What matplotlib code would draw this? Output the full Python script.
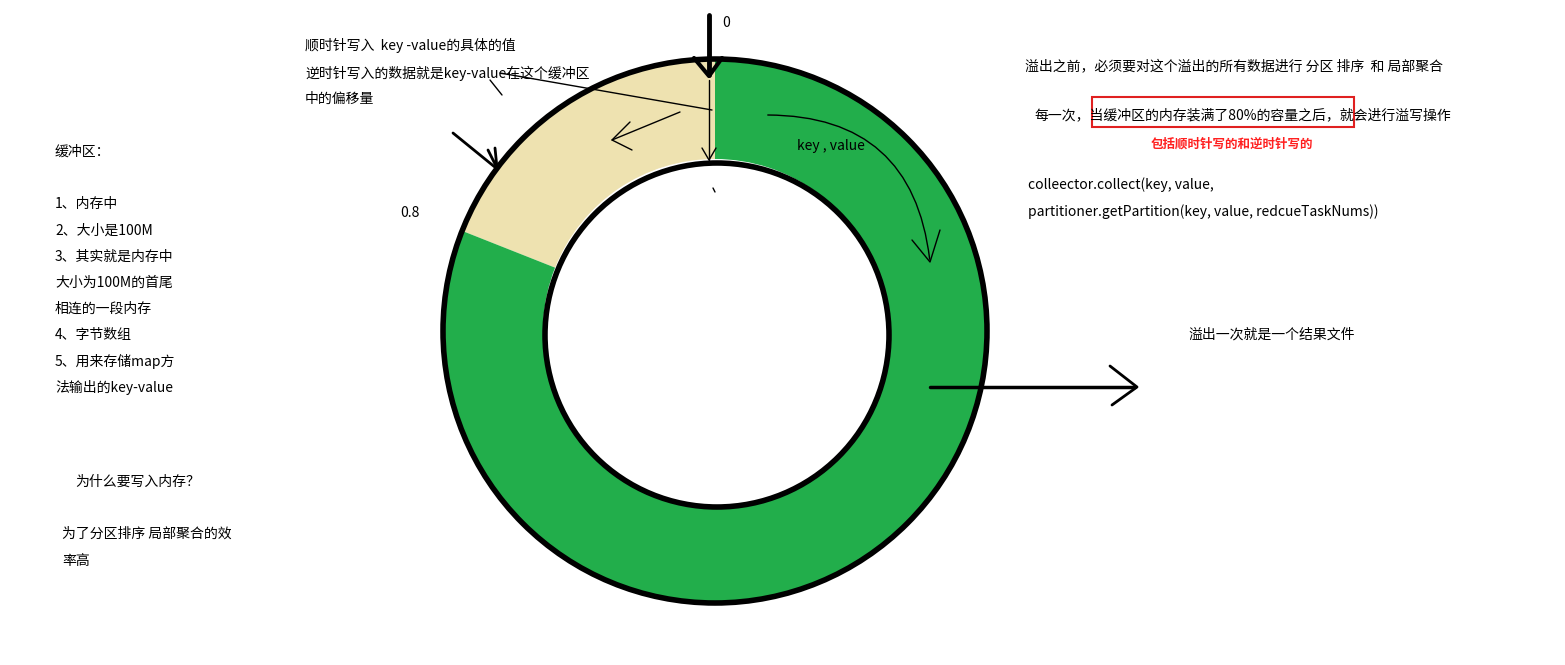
import matplotlib
matplotlib.use("Agg")
import matplotlib.pyplot as plt
from matplotlib.patches import Circle, Rectangle, FancyArrowPatch

plt.rcParams['font.family'] = ['Noto Sans CJK SC', 'DejaVu Sans']

labels = ["written", "free"]
shares = [0.19, 0.81]
colors = ["#EEE2B0", "#22AE4B"]

left_lines = ["缓冲区：", "", "1、内存中", "2、大小是100M", "3、其实就是内存中",
              "大小为100M的首尾", "相连的一段内存", "4、字节数组", "5、用来存储map方", "法输出的key-value"]

fig = plt.figure(figsize=(15.65, 6.65), dpi=100)
ax = fig.add_axes([0, 0, 1, 1])
ax.set_xlim(0, 1565)
ax.set_ylim(665, 0)
ax.set_aspect('equal')
ax.axis('off')

cx, cy, R, r = 715, 331, 272, 172
ax.pie(shares, colors=colors, radius=R, center=(cx, cy), startangle=270,
       counterclock=False, wedgeprops=dict(width=R - r, edgecolor='none'), frame=True)
ax.set_xlim(0, 1565); ax.set_ylim(665, 0); ax.axis('off')
ax.add_patch(Circle((cx, cy), R, fill=False, lw=4, ec='black'))
ax.add_patch(Circle((cx + 2, cy + 4), r, fill=True, fc='white', lw=4, ec='black'))

k = dict(color='black', solid_capstyle='round')
# top thick arrow
ax.plot([709, 709], [15, 75], lw=3.5, **k)
ax.plot([694, 709, 722], [58, 76, 58], lw=3, **k)
ax.plot([709, 709], [80, 160], lw=1, **k)
ax.plot([702, 709, 716], [148, 160, 148], lw=1, **k)
# left arrow to ring
ax.plot([453, 496], [133, 168], lw=2, **k)
ax.plot([488, 497, 495], [150, 168, 148], lw=2, **k)
# text pointer lines
ax.plot([500, 712], [73, 110], lw=1, **k)
ax.plot([490, 502], [80, 95], lw=1, **k)
ax.plot([680, 612], [112, 140], lw=1, **k)
ax.plot([630, 612, 632], [122, 140, 150], lw=1, **k)
ax.plot([713, 715], [188, 192], lw=1, **k)
# curved arrow
ax.add_patch(FancyArrowPatch((765, 115), (930, 262), connectionstyle="arc3,rad=-0.45",
                             arrowstyle='-', lw=1, color='black'))
ax.plot([912, 930, 940], [240, 262, 230], lw=1, **k)
# right arrow
ax.plot([930, 1135], [387, 387], lw=2.5, **k)
ax.plot([1110, 1137, 1112], [366, 387, 405], lw=2, **k)

fs = 10
ax.text(722, 23, "0", fontsize=fs, va='center')
ax.text(400, 213, "0.8", fontsize=fs, va='center')
ax.text(797, 146, "key , value", fontsize=fs, va='center')
ax.text(305, 45, "顺时针写入  key -value的具体的值", fontsize=fs, va='center')
ax.text(305, 73, "逆时针写入的数据就是key-value在这个缓冲区", fontsize=fs, va='center')
ax.text(305, 99, "中的偏移量", fontsize=fs, va='center')
for i, t in enumerate(left_lines):
    ax.text(55, 152 + i * 26.2, t, fontsize=fs, va='center')
ax.text(75, 482, "为什么要写入内存？", fontsize=fs, va='center')
ax.text(62, 534, "为了分区排序 局部聚合的效", fontsize=fs, va='center')
ax.text(62, 561, "率高", fontsize=fs, va='center')
ax.text(1025, 66, "溢出之前，必须要对这个溢出的所有数据进行 分区 排序  和 局部聚合", fontsize=fs, va='center')
ax.text(1034, 115, "每一次，当缓冲区的内存装满了80%的容量之后，就会进行溢写操作", fontsize=fs, va='center')
ax.add_patch(Rectangle((1092, 97), 262, 30, fill=False, ec='#E02020', lw=1.5))
ax.text(1232, 144, "包括顺时针写的和逆时针写的", fontsize=9, color='#FF2020', weight='bold', ha='center', va='center')
ax.text(1028, 185, "colleector.collect(key, value,", fontsize=fs, va='center')
ax.text(1028, 212, "partitioner.getPartition(key, value, redcueTaskNums))", fontsize=fs, va='center')
ax.text(1188, 335, "溢出一次就是一个结果文件", fontsize=fs, va='center')

fig.savefig("out.png", dpi=100)
